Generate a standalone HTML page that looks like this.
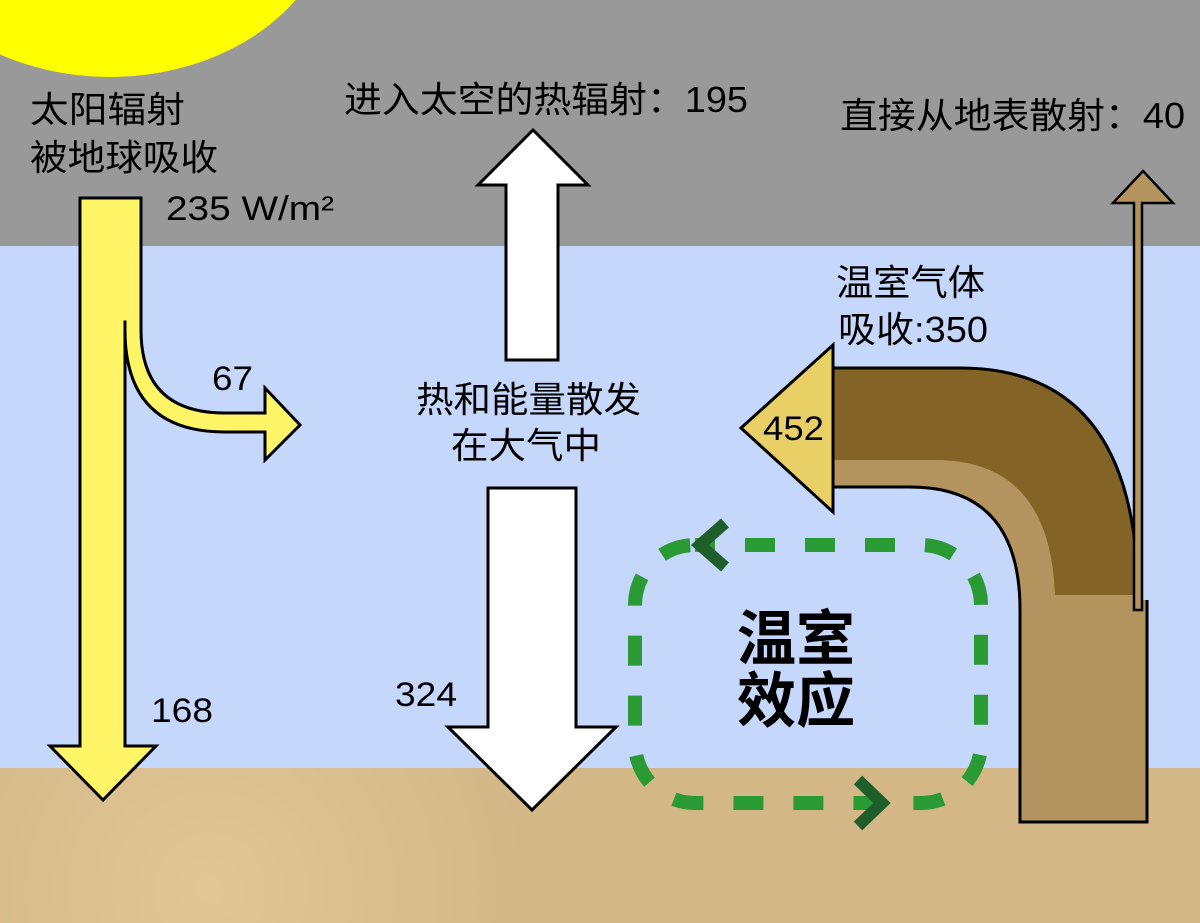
<!DOCTYPE html>
<html><head><meta charset="utf-8"><style>
html,body{margin:0;padding:0;width:1200px;height:923px;overflow:hidden}
svg{display:block}
text{font-family:"Liberation Sans","Noto Sans CJK SC",sans-serif;fill:#000}
</style></head><body>
<svg width="1200" height="923" viewBox="0 0 1200 923" xmlns="http://www.w3.org/2000/svg">
<defs>
<radialGradient id="g" cx="210" cy="890" r="320" gradientUnits="userSpaceOnUse">
<stop offset="0" stop-color="#e2c796"/><stop offset="1" stop-color="#d3b786"/>
</radialGradient>
</defs>
<rect x="0" y="0" width="1200" height="246" fill="#999999"/>
<rect x="0" y="246" width="1200" height="523" fill="#c6d7fc"/>
<rect x="0" y="768" width="1200" height="155" fill="url(#g)"/>
<ellipse cx="110" cy="-100" rx="225" ry="177" fill="#ffff00"/>

<!-- yellow arrow -->
<path d="M80,198 H141 V322 H125 V746 H156 L103,800 L50,746 H80 Z" fill="#fff566" stroke="#000" stroke-width="3"/>
<path d="M125,322 V330 Q125,432 225,432 H265 V460 L300,425 L265,388 V413 H225 Q141,413 141,330 V322" fill="#fff566" stroke="#000" stroke-width="3"/>
<rect x="126.5" y="300" width="13" height="30" fill="#fff566"/>

<!-- white arrows -->
<path d="M506,360 V185 H478 L533,130 L588,185 H558 V360 Z" fill="#fff" stroke="#000" stroke-width="3"/>
<path d="M488,488 H576 V727 H616 L532,810 L448,727 H488 Z" fill="#fff" stroke="#000" stroke-width="3"/>

<!-- brown arrow -->
<path d="M833,368 H960 Q1138,368 1138,600 H1147 V822 H1020 V610 Q1020,487 910,487 H833 Z" fill="#b3945f"/>
<path d="M833,368 H960 Q1138,368 1138,595 H1055 Q1050,460 935,460 H833 Z" fill="#836426"/>
<path d="M833,368 H960 Q1138,368 1138,600" fill="none" stroke="#000" stroke-width="3"/>
<path d="M1147,600 V822 H1020 V610 Q1020,487 910,487 H833" fill="none" stroke="#000" stroke-width="3"/>
<path d="M833,345 V512 L741,428 Z" fill="#e8cf66" stroke="#000" stroke-width="3"/>
<path d="M1134,610 V203 H1113 L1143,171 L1173,203 H1142 V610 Z" fill="#b3945f" stroke="#000" stroke-width="2.5"/>

<!-- green dashed loop -->
<rect x="635" y="545" width="346" height="258" rx="60" ry="60" fill="none" stroke="#2a9a35" stroke-width="14" stroke-dasharray="30 30" stroke-dashoffset="10"/>
<path d="M725,523 L700,545 L725,567" fill="none" stroke="#1e5e2a" stroke-width="12"/>
<path d="M858,780 L882,803 L858,826" fill="none" stroke="#1e5e2a" stroke-width="12"/>

<!-- text -->
<g font-size="36">
<text x="30" y="122" textLength="155" lengthAdjust="spacingAndGlyphs">太阳辐射</text>
<text x="30" y="170" textLength="188" lengthAdjust="spacingAndGlyphs">被地球吸收</text>
<text x="344" y="112" textLength="404" lengthAdjust="spacingAndGlyphs">进入太空的热辐射：195</text>
<text x="840" y="128" textLength="345" lengthAdjust="spacingAndGlyphs">直接从地表散射：40</text>
<text x="836" y="295" textLength="149" lengthAdjust="spacingAndGlyphs">温室气体</text>
<text x="838" y="342" textLength="150" lengthAdjust="spacingAndGlyphs">吸收:350</text>
<text x="416" y="412" textLength="225" lengthAdjust="spacingAndGlyphs">热和能量散发</text>
<text x="451" y="458" textLength="150" lengthAdjust="spacingAndGlyphs">在大气中</text>
</g>
<g font-size="34">
<text x="166" y="220" textLength="168" lengthAdjust="spacingAndGlyphs">235 W/m²</text>
<text x="212" y="390" textLength="41" lengthAdjust="spacingAndGlyphs">67</text>
<text x="151" y="722" textLength="62" lengthAdjust="spacingAndGlyphs">168</text>
<text x="763" y="440" textLength="61" lengthAdjust="spacingAndGlyphs">452</text>
<text x="395" y="706" textLength="62" lengthAdjust="spacingAndGlyphs">324</text>
</g>
<text x="737" y="660" font-size="60" font-weight="bold" textLength="118" lengthAdjust="spacingAndGlyphs">温室</text>
<text x="737" y="722" font-size="60" font-weight="bold" textLength="118" lengthAdjust="spacingAndGlyphs">效应</text>
</svg>
</body></html>
